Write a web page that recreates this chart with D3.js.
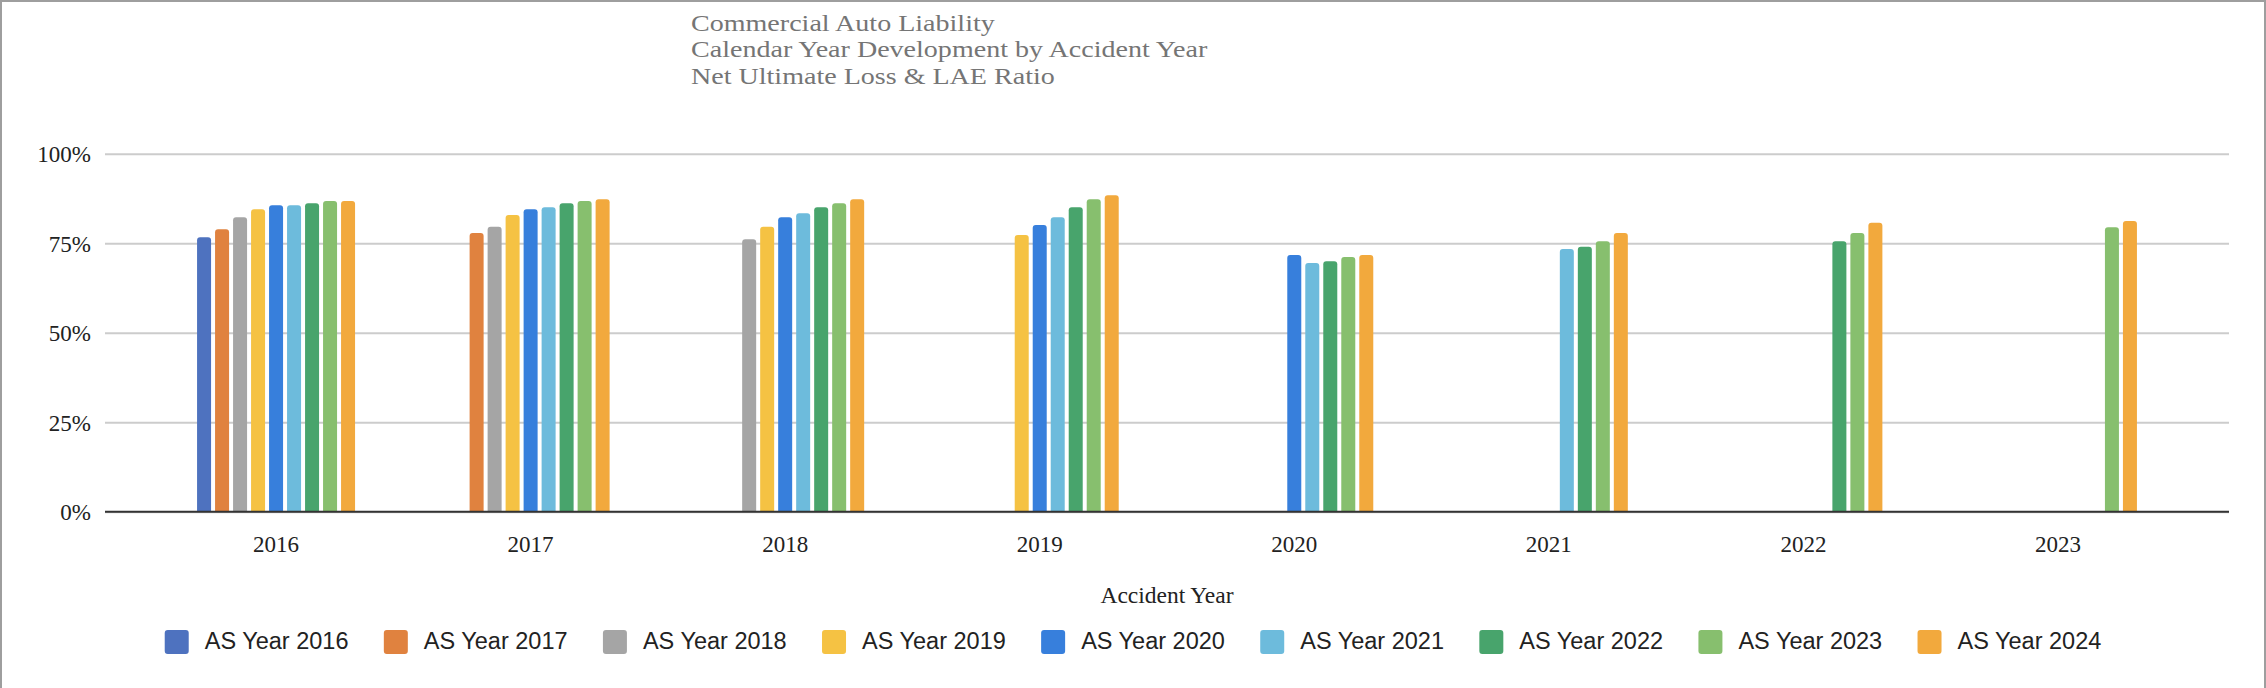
<!DOCTYPE html>
<html>
<head>
<meta charset="utf-8">
<script src="https://cdn.jsdelivr.net/npm/d3@7"></script>
<style>
  body { margin: 0; background: #fff; }
  .tick text { font-family: "Liberation Serif", "Times New Roman", serif; font-size: 23px; fill: #222; }
  .legend text { font-family: "Liberation Sans", Arial, sans-serif; font-size: 23.5px; fill: #222; }
</style>
</head>
<body>
<svg id="chart"></svg>
<script>
// Accident years (x categories)
const accidentYears = ["2016", "2017", "2018", "2019", "2020", "2021", "2022", "2023"];

// Series: evaluation (AS) year -> net ultimate loss & LAE ratio per accident year, in %
const seriesNames = ["AS Year 2016", "AS Year 2017", "AS Year 2018", "AS Year 2019", "AS Year 2020",
  "AS Year 2021", "AS Year 2022", "AS Year 2023", "AS Year 2024"];
const asYear2016 = [76.7, null, null, null, null, null, null, null];
const asYear2017 = [78.9, 77.9, null, null, null, null, null, null];
const asYear2018 = [82.3, 79.6, 76.1, null, null, null, null, null];
const asYear2019 = [84.5, 82.9, 79.6, 77.3, null, null, null, null];
const asYear2020 = [85.6, 84.5, 82.3, 80.1, 71.7, null, null, null];
const asYear2021 = [85.6, 85.1, 83.4, 82.3, 69.5, 73.4, null, null];
const asYear2022 = [86.2, 86.2, 85.1, 85.1, 70.0, 74.0, 75.6, null];
const asYear2023 = [86.8, 86.8, 86.2, 87.3, 71.2, 75.6, 77.9, 79.5];
const asYear2024 = [86.8, 87.3, 87.3, 88.4, 71.7, 77.9, 80.7, 81.2];
const seriesColors = ["#4e72bf", "#e0823f", "#a5a5a5", "#f5c243", "#377fdc",
  "#6dbbdc", "#48a46c", "#87bf6e", "#f2a93d"];

const yTicks = [0, 0.25, 0.5, 0.75, 1];
const titleLines = ["Commercial Auto Liability", "Calendar Year Development by Accident Year",
  "Net Ultimate Loss & LAE Ratio"];

const allSeries = [asYear2016, asYear2017, asYear2018, asYear2019, asYear2020,
  asYear2021, asYear2022, asYear2023, asYear2024];

const W = 2266, H = 688;
const margin = { top: 153.8, left: 105, right: 37 };
const width = W - margin.left - margin.right;
const height = 511.7 - margin.top;

const svg = d3.select("#chart").attr("width", W).attr("height", H);

// outer frame (bottom edge runs off the picture)
svg.append("rect")
  .attr("x", 1).attr("y", 1).attr("width", W - 2).attr("height", H + 10)
  .attr("fill", "none").attr("stroke", "#9e9e9e").attr("stroke-width", 2);

// Title, a wide serif: Liberation Serif stretched a bit
const title = svg.append("g").attr("transform", "translate(691,0) scale(1.22,1)");
title.selectAll("text")
  .data(titleLines)
  .join("text")
  .attr("x", 0)
  .attr("y", (d, i) => 30.7 + i * 26.7)
  .attr("font-family", "'Liberation Serif', 'Times New Roman', serif")
  .attr("font-size", 23)
  .attr("fill", "#757575")
  .text(d => d);

const chart = svg.append("g").attr("transform", `translate(${margin.left},${margin.top})`);

const x0 = d3.scaleBand().domain(accidentYears).range([0, width]).paddingOuter(0.172);
const groupWidth = 158;
const x1 = d3.scaleBand().domain(seriesNames).range([0, groupWidth]).paddingInner(0.222);
const y = d3.scaleLinear().domain([0, 1]).range([height, 0]);
const color = d3.scaleOrdinal().domain(seriesNames).range(seriesColors);

// gridlines + y labels
const yAxis = d3.axisLeft(y).tickValues(yTicks).tickFormat(d3.format(".0%"))
  .tickSize(-width).tickPadding(14);
chart.append("g").call(yAxis)
  .call(g => g.select(".domain").remove())
  .call(g => g.selectAll(".tick line").attr("stroke", "#cccccc").attr("stroke-width", 2))
  .call(g => g.selectAll(".tick text").attr("dy", "0.34em"));

// x labels
const xAxis = d3.axisBottom(x0).tickSize(0).tickPadding(24);
chart.append("g").attr("transform", `translate(0,${height})`).call(xAxis)
  .call(g => g.select(".domain").remove())
  .call(g => g.selectAll(".tick text").attr("dy", "0.71em"));

// bars
const barData = [];
accidentYears.forEach((yr, i) => {
  seriesNames.forEach((s, j) => {
    const v = allSeries[j][i];
    if (v != null) barData.push({ year: yr, series: s, value: v / 100 });
  });
});

function roundTopBar(x, yTop, w, h, r) {
  return `M${x},${yTop + h}V${yTop + r}Q${x},${yTop} ${x + r},${yTop}H${x + w - r}` +
    `Q${x + w},${yTop} ${x + w},${yTop + r}V${yTop + h}Z`;
}

const groupOffset = (x0.bandwidth() - groupWidth) / 2;
chart.append("g").selectAll("path")
  .data(barData)
  .join("path")
  .attr("fill", d => color(d.series))
  .attr("d", d => {
    const bx = x0(d.year) + groupOffset + x1(d.series);
    const by = y(d.value);
    return roundTopBar(bx, by, x1.bandwidth(), height - by, 3);
  });

// baseline
chart.append("line")
  .attr("x1", 0).attr("x2", width).attr("y1", height).attr("y2", height)
  .attr("stroke", "#333").attr("stroke-width", 2);

// axis title
chart.append("text")
  .attr("x", width / 2).attr("y", 603.3 - margin.top)
  .attr("text-anchor", "middle")
  .attr("font-family", "'Liberation Serif', 'Times New Roman', serif")
  .attr("font-size", 23.5).attr("fill", "#222")
  .text("Accident Year");

// legend: fixed item step, centred under the chart
const legendStep = 219.1;
const legend = svg.append("g").attr("class", "legend");
const items = legend.selectAll("g").data(seriesNames).join("g");
items.append("rect")
  .attr("width", 24).attr("height", 24).attr("rx", 3).attr("y", 630)
  .attr("fill", d => color(d));
items.append("text")
  .attr("x", 40).attr("y", 649)
  .text(d => d);

const lastW = 40 + items.filter((d, i) => i === seriesNames.length - 1)
  .select("text").node().getComputedTextLength();
const total = legendStep * (seriesNames.length - 1) + lastW;
const start = 1133 - total / 2;
items.attr("transform", (d, i) => `translate(${start + i * legendStep},0)`);
</script>
</body>
</html>
